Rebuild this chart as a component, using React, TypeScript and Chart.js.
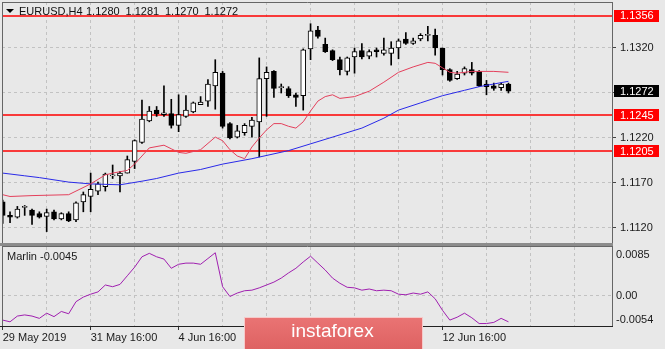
import React, { useEffect, useRef } from 'react';
import { Chart, registerables } from 'chart.js';
Chart.register(...registerables);

const FONT = '"Liberation Sans", Arial, sans-serif';
const BG = '#e8e8e8';
const GRID = '#c2c2c2';
const RED_MA = '#e4405c';
const BLUE_MA = '#2a2ae8';
const PURPLE = '#a020b0';
const LEVEL_RED = '#ff0000';

const symbolTitle = 'EURUSD,H4';
const titleValues = ['1.1280', '1.1281', '1.1270', '1.1272'];

const opens = [1.1149, 1.1134, 1.1132, 1.1143, 1.1140, 1.1136, 1.1133, 1.1138, 1.1130, 1.1136,
  1.1129, 1.1149, 1.1155, 1.1161, 1.1166, 1.1178, 1.1178, 1.1181, 1.1194, 1.1215,
  1.1239, 1.1251, 1.1246, 1.1247, 1.1234, 1.1244, 1.1249, 1.1257, 1.1261, 1.1278,
  1.1292, 1.1236, 1.1221, 1.1226, 1.1233, 1.1238, 1.1286, 1.1294, 1.1276, 1.1275,
  1.1268, 1.1267, 1.1319, 1.1340, 1.1324, 1.1317, 1.1307, 1.1294, 1.1310, 1.1317,
  1.1311, 1.1318, 1.1314, 1.1314, 1.1320, 1.1330, 1.1325, 1.1330, 1.1334, 1.1334,
  1.1320, 1.1296, 1.1286, 1.1292, 1.1296, 1.1294, 1.1280, 1.1278, 1.1276, 1.1280];
const highs = [1.1151, 1.1138, 1.1144, 1.1145, 1.1141, 1.1138, 1.1141, 1.1140, 1.1137, 1.1138,
  1.1149, 1.1160, 1.1181, 1.1171, 1.1181, 1.1190, 1.1183, 1.1200, 1.1218, 1.1262,
  1.1255, 1.1255, 1.1278, 1.1263, 1.1268, 1.1267, 1.1260, 1.1266, 1.1285, 1.1307,
  1.1294, 1.1237, 1.1234, 1.1236, 1.1243, 1.1309, 1.1299, 1.1295, 1.1280, 1.1277,
  1.1270, 1.1319, 1.1347, 1.1344, 1.1331, 1.1318, 1.1310, 1.1310, 1.1320, 1.1325,
  1.1318, 1.1320, 1.1331, 1.1327, 1.1330, 1.1337, 1.1331, 1.1336, 1.1344, 1.1341,
  1.1320, 1.1297, 1.1294, 1.1299, 1.1304, 1.1295, 1.1284, 1.1281, 1.1281, 1.1281];
const lows = [1.1125, 1.1126, 1.1131, 1.1134, 1.1124, 1.1131, 1.1116, 1.1129, 1.1129, 1.1127,
  1.1127, 1.1138, 1.1138, 1.1157, 1.1161, 1.1175, 1.1160, 1.1181, 1.1186, 1.1214,
  1.1238, 1.1244, 1.1244, 1.1231, 1.1227, 1.1243, 1.1248, 1.1257, 1.1255, 1.1252,
  1.1231, 1.1219, 1.1220, 1.1223, 1.1221, 1.1199, 1.1244, 1.1265, 1.1270, 1.1265,
  1.1255, 1.1251, 1.1307, 1.1331, 1.1315, 1.1306, 1.1290, 1.1290, 1.1292, 1.1308,
  1.1308, 1.1310, 1.1312, 1.1301, 1.1308, 1.1324, 1.1324, 1.1328, 1.1328, 1.1312,
  1.1290, 1.1283, 1.1285, 1.1290, 1.1290, 1.1277, 1.1268, 1.1273, 1.1273, 1.1270];
const closes = [1.1134, 1.1132, 1.1141, 1.1144, 1.1134, 1.1132, 1.1137, 1.1130, 1.1136, 1.1128,
  1.1148, 1.1157, 1.1163, 1.1169, 1.1180, 1.1178, 1.1181, 1.1196, 1.1217, 1.1241,
  1.1250, 1.1247, 1.1248, 1.1234, 1.1246, 1.1251, 1.1259, 1.1260, 1.1280, 1.1293,
  1.1233, 1.1220, 1.1228, 1.1234, 1.1240, 1.1286, 1.1293, 1.1275, 1.1276, 1.1267,
  1.1265, 1.1318, 1.1339, 1.1333, 1.1316, 1.1307, 1.1296, 1.1309, 1.1316, 1.1310,
  1.1316, 1.1316, 1.1318, 1.1320, 1.1328, 1.1325, 1.1328, 1.1334, 1.1334, 1.1320,
  1.1296, 1.1284, 1.1291, 1.1297, 1.1292, 1.1278, 1.1277, 1.1275, 1.1280, 1.1272];

const fastMaIdx = [0, 1, 4, 9, 12, 14, 15, 17, 18, 20, 22, 23, 24, 25, 27, 29, 30, 31, 32, 33,
  34, 35, 36, 37, 38, 39, 40, 41, 42, 43, 44, 45, 46, 48, 50, 52, 54, 56, 58, 59,
  60, 61, 62, 64, 67, 69];
const fastMaVal = [1.1157, 1.1155, 1.1156, 1.1157, 1.1169, 1.1179, 1.1181, 1.1184, 1.1191, 1.1209,
  1.1212, 1.1208, 1.1204, 1.1203, 1.1207, 1.1221, 1.1217, 1.1207, 1.1200, 1.1197,
  1.1210, 1.1220, 1.1229, 1.1236, 1.1236, 1.1233, 1.1231, 1.1238, 1.1250, 1.1261,
  1.1266, 1.1268, 1.1264, 1.1266, 1.1272, 1.1282, 1.1293, 1.1299, 1.1304, 1.1303,
  1.1298, 1.1293, 1.1292, 1.1294, 1.1294, 1.1293];

const slowMaIdx = [0, 3, 5, 9, 12, 16, 19, 21, 24, 27, 30, 34, 39, 45, 49, 52, 54, 57, 60, 63, 65, 67, 69];
const slowMaVal = [1.1181, 1.1178, 1.1176, 1.1171, 1.1169, 1.1168, 1.1172, 1.1175, 1.1181, 1.1185,
  1.1191, 1.1197, 1.1206, 1.1221, 1.1231, 1.1242, 1.1251, 1.1259, 1.1267, 1.1273,
  1.1277, 1.1280, 1.1283];

const marlin = [-0.0042, -0.0045, -0.0035, -0.0033, -0.0035, -0.0039, -0.0030, -0.0036, -0.0027, -0.0031,
  -0.0010, -0.0002, 0.0003, 0.0007, 0.0019, 0.0016, 0.0020, 0.0035, 0.0050, 0.0068,
  0.0074, 0.0068, 0.0064, 0.0048, 0.0055, 0.0057, 0.0057, 0.0055, 0.0065, 0.0075,
  0.0016, -0.0001, 0.0005, 0.0009, 0.0010, 0.0014, 0.0019, 0.0024, 0.0031, 0.0040,
  0.0048, 0.0059, 0.0069, 0.0057, 0.0045, 0.0031, 0.0022, 0.0015, 0.0014, 0.0010,
  0.0012, 0.0009, 0.0010, 0.0009, 0.0003, 0.0002, 0.0005, 0.0003, 0.0007, -0.0005,
  -0.0025, -0.0042, -0.0037, -0.0030, -0.0038, -0.0048, -0.0048, -0.0046, -0.0039, -0.0045];
const marlinLabel = 'Marlin -0.0045';

const levels = [1.1356, 1.1245, 1.1205];
const lastPrice = 1.1272;
const priceGrid = [1.1320, 1.1270, 1.1220, 1.1170, 1.1120];
const priceLabelTicks = [1.1320, 1.1220, 1.1170, 1.1120];
const marlinTicks = [0.0085, 0, -0.0054];
const timeGridIdx = [0, 6, 12, 18, 24, 30, 36, 42, 48, 54, 60, 66, 72, 78];
const timeTickIdx = [0, 12, 24, 36, 48, 60];
const timeTickLabels = ['29 May 2019', '31 May 16:00', '4 Jun 16:00', '6 Jun 16:00', '10 Jun 16:00', '12 Jun 16:00'];

const X_MIN = -0.0955;
const X_MAX = 83.125;
const P_MIN = 1.110333;
const P_MAX = 1.137111;
const M_MIN = -0.0054;
const M_MAX = 0.0085;

const noPad = (s: any) => {
  s.paddingTop = 0;
  s.paddingBottom = 0;
  s.paddingLeft = 0;
  s.paddingRight = 0;
};

export default function App() {
  const mainRef = useRef<HTMLCanvasElement>(null);
  const oscRef = useRef<HTMLCanvasElement>(null);

  useEffect(() => {
    document.body.style.margin = '0';
    const bgPlugin = {
      id: 'bgfill',
      beforeDraw(c: any) {
        const ctx = c.ctx;
        ctx.save();
        ctx.fillStyle = BG;
        ctx.fillRect(0, 0, c.width, c.height);
        ctx.restore();
      },
    };

    const levelLines = {
      id: 'levelLines',
      beforeDatasetsDraw(c: any) {
        const { ctx, chartArea } = c;
        const ys = c.scales.y;
        ctx.save();
        ctx.strokeStyle = LEVEL_RED;
        ctx.lineWidth = 1.4;
        ctx.setLineDash([]);
        levels.forEach((lv) => {
          const y = Math.round(ys.getPixelForValue(lv));
          ctx.beginPath();
          ctx.moveTo(chartArea.left, y);
          ctx.lineTo(chartArea.right, y);
          ctx.stroke();
        });
        ctx.restore();
      },
    };

    const mainOverlay = {
      id: 'mainOverlay',
      afterDraw(c: any) {
        const { ctx, chartArea } = c;
        const ys = c.scales.y;
        ctx.save();
        ctx.font = `11px ${FONT}`;
        ctx.textBaseline = 'middle';
        ctx.textAlign = 'left';
        const box = (v: number, color: string) => {
          const y = ys.getPixelForValue(v);
          ctx.fillStyle = color;
          ctx.fillRect(chartArea.right + 2, Math.round(y) - 6, 45, 12);
          ctx.fillStyle = '#ffffff';
          ctx.fillText(v.toFixed(4), chartArea.right + 8, y + 0.5);
        };
        levels.forEach((lv) => box(lv, LEVEL_RED));
        box(lastPrice, '#000000');

        // frame
        ctx.strokeStyle = '#666666';
        ctx.lineWidth = 1;
        ctx.beginPath();
        ctx.moveTo(chartArea.left + 0.5, chartArea.top);
        ctx.lineTo(chartArea.left + 0.5, chartArea.bottom);
        ctx.moveTo(chartArea.right + 0.5, chartArea.top);
        ctx.lineTo(chartArea.right + 0.5, chartArea.bottom + 3);
        ctx.moveTo(chartArea.left, chartArea.top + 0.5);
        ctx.lineTo(chartArea.right + 1, chartArea.top + 0.5);
        ctx.stroke();
        ctx.fillStyle = '#8c8c8c';
        ctx.fillRect(0, chartArea.bottom, chartArea.right + 1, 3);

        // title
        ctx.fillStyle = '#000000';
        ctx.beginPath();
        ctx.moveTo(6, 9);
        ctx.lineTo(14, 9);
        ctx.lineTo(10, 13);
        ctx.closePath();
        ctx.fill();
        ctx.fillStyle = '#101010';
        ctx.fillText(symbolTitle, 19, 12);
        titleValues.forEach((t, k) => ctx.fillText(t, 86 + k * 39.5, 12));
        ctx.restore();
      },
    };

    const bodyData = opens.map((o, i) => ({ x: i, y: [o, closes[i]] }));
    const wickData = lows.map((l, i) => ({ x: i, y: [l, highs[i]] }));
    const bodyColors = opens.map((o, i) => (closes[i] >= o ? '#ffffff' : '#000000'));

    const main = new Chart(mainRef.current as HTMLCanvasElement, {
      type: 'bar',
      data: {
        datasets: [
          {
            type: 'line',
            data: fastMaIdx.map((x, k) => ({ x, y: fastMaVal[k] })),
            borderColor: RED_MA,
            borderWidth: 1,
            pointRadius: 0,
            tension: 0,
            order: 0,
          } as any,
          {
            type: 'line',
            data: slowMaIdx.map((x, k) => ({ x, y: slowMaVal[k] })),
            borderColor: BLUE_MA,
            borderWidth: 1,
            pointRadius: 0,
            tension: 0,
            order: 0,
          } as any,
          {
            type: 'bar',
            data: bodyData,
            backgroundColor: bodyColors,
            borderColor: '#000000',
            borderWidth: 1,
            borderSkipped: false,
            barThickness: 5,
            grouped: false,
            minBarLength: 1,
            order: 1,
          } as any,
          {
            type: 'bar',
            data: wickData,
            backgroundColor: '#000000',
            borderWidth: 0,
            barThickness: 1,
            grouped: false,
            order: 2,
          } as any,
        ],
      },
      options: {
        animation: false,
        responsive: false,
        maintainAspectRatio: false,
        layout: { padding: { left: 2, top: 2, right: 0, bottom: 3 } },
        plugins: { legend: { display: false }, tooltip: { enabled: false } },
        scales: {
          x: {
            type: 'linear',
            offset: false,
            min: X_MIN,
            max: X_MAX,
            afterBuildTicks: (s: any) => { s.ticks = timeGridIdx.map((v) => ({ value: v })); },
            ticks: { display: false },
            grid: { color: GRID, drawTicks: false, lineWidth: 1, offset: false },
            border: { display: false, dash: [3, 3] },
            afterFit: (s: any) => { s.height = 0; noPad(s); },
          },
          y: {
            position: 'right',
            min: P_MIN,
            max: P_MAX,
            afterBuildTicks: (s: any) => { s.ticks = priceGrid.map((v) => ({ value: v })); },
            ticks: {
              callback: (v: any) => (priceLabelTicks.includes(v) ? Number(v).toFixed(4) : ''),
              font: { family: FONT, size: 11 },
              color: '#1a1a1a',
              padding: 4,
            },
            grid: { color: GRID, tickColor: '#444444', tickLength: 4, tickBorderDash: [] },
            border: { display: false, dash: [3, 3] },
            afterFit: (s: any) => { s.width = 53; noPad(s); },
          },
        },
      } as any,
      plugins: [bgPlugin, levelLines, mainOverlay],
    });

    const oscOverlay = {
      id: 'oscOverlay',
      afterDraw(c: any) {
        const { ctx, chartArea } = c;
        const ys = c.scales.y;
        ctx.save();
        ctx.strokeStyle = '#666666';
        ctx.lineWidth = 1;
        ctx.beginPath();
        ctx.moveTo(chartArea.left + 0.5, chartArea.top);
        ctx.lineTo(chartArea.left + 0.5, chartArea.bottom);
        ctx.moveTo(chartArea.right + 0.5, 0);
        ctx.lineTo(chartArea.right + 0.5, chartArea.bottom);
        ctx.moveTo(chartArea.left, chartArea.top - 0.5);
        ctx.lineTo(chartArea.right + 1, chartArea.top - 0.5);
        ctx.stroke();
        ctx.strokeStyle = '#222222';
        ctx.beginPath();
        ctx.moveTo(0, chartArea.bottom - 0.5);
        ctx.lineTo(chartArea.right + 1, chartArea.bottom - 0.5);
        ctx.stroke();

        ctx.font = `11px ${FONT}`;
        ctx.textBaseline = 'middle';
        ctx.textAlign = 'left';
        ctx.fillStyle = '#1a1a1a';
        marlinTicks.forEach((v) => {
          const y = Math.max(chartArea.top + 8, Math.min(chartArea.bottom - 7, ys.getPixelForValue(v)));
          ctx.fillText(v === 0 ? '0.00' : v.toFixed(4), chartArea.right + 4, y);
        });
        ctx.fillText(marlinLabel, 7, chartArea.top + 10);

        // logo
        const lx = 244, ly = 71, lw = 179, lh = 40;
        const grad = ctx.createLinearGradient(0, ly, 0, ly + 32);
        grad.addColorStop(0, '#ea7474');
        grad.addColorStop(1, '#de6262');
        ctx.fillStyle = grad;
        ctx.fillRect(lx, ly, lw, lh);
        ctx.strokeStyle = '#f6caca';
        ctx.strokeRect(lx + 0.5, ly + 0.5, lw - 1, lh);
        ctx.fillStyle = '#ffffff';
        ctx.font = `19px ${FONT}`;
        ctx.textAlign = 'center';
        ctx.fillText('instaforex', lx + lw / 2 - 1, 86);
        ctx.restore();
      },
    };

    const osc = new Chart(oscRef.current as HTMLCanvasElement, {
      type: 'line',
      data: {
        datasets: [
          {
            data: marlin.map((v, i) => ({ x: i, y: v })),
            borderColor: PURPLE,
            borderWidth: 1,
            pointRadius: 0,
            tension: 0,
          },
        ],
      },
      options: {
        animation: false,
        responsive: false,
        maintainAspectRatio: false,
        layout: { padding: { left: 2, top: 1, right: 0, bottom: 0 } },
        plugins: { legend: { display: false }, tooltip: { enabled: false } },
        scales: {
          x: {
            type: 'linear',
            offset: false,
            min: X_MIN,
            max: X_MAX,
            afterBuildTicks: (s: any) => { s.ticks = timeGridIdx.map((v) => ({ value: v })); },
            ticks: {
              autoSkip: false,
              maxRotation: 0,
              align: 'start',
              padding: 1,
              font: { family: FONT, size: 11 },
              color: '#1a1a1a',
              callback: (v: any) => {
                const k = timeTickIdx.indexOf(v);
                return k >= 0 ? timeTickLabels[k] : '';
              },
            },
            grid: {
              color: GRID,
              tickLength: 3,
              tickBorderDash: [],
              tickColor: (ctx: any) => (ctx.tick && timeTickIdx.includes(ctx.tick.value) ? '#333333' : 'rgba(0,0,0,0)'),
            },
            border: { display: false, dash: [3, 3] },
            afterFit: (s: any) => { s.height = 22; noPad(s); },
          },
          y: {
            position: 'right',
            min: M_MIN,
            max: M_MAX,
            afterBuildTicks: (s: any) => { s.ticks = [{ value: 0 }]; },
            ticks: { display: false },
            grid: { color: GRID, drawTicks: false },
            border: { display: false, dash: [3, 3] },
            afterFit: (s: any) => { s.width = 53; noPad(s); },
          },
        },
      } as any,
      plugins: [bgPlugin, oscOverlay],
    });

    return () => {
      main.destroy();
      osc.destroy();
    };
  }, []);

  return (
    <div style={{ position: 'relative', width: 665, height: 349, background: BG, overflow: 'hidden' }}>
      <canvas ref={mainRef} width={665} height={246} style={{ position: 'absolute', left: 0, top: 0 }} />
      <canvas ref={oscRef} width={665} height={103} style={{ position: 'absolute', left: 0, top: 246 }} />
    </div>
  );
}
